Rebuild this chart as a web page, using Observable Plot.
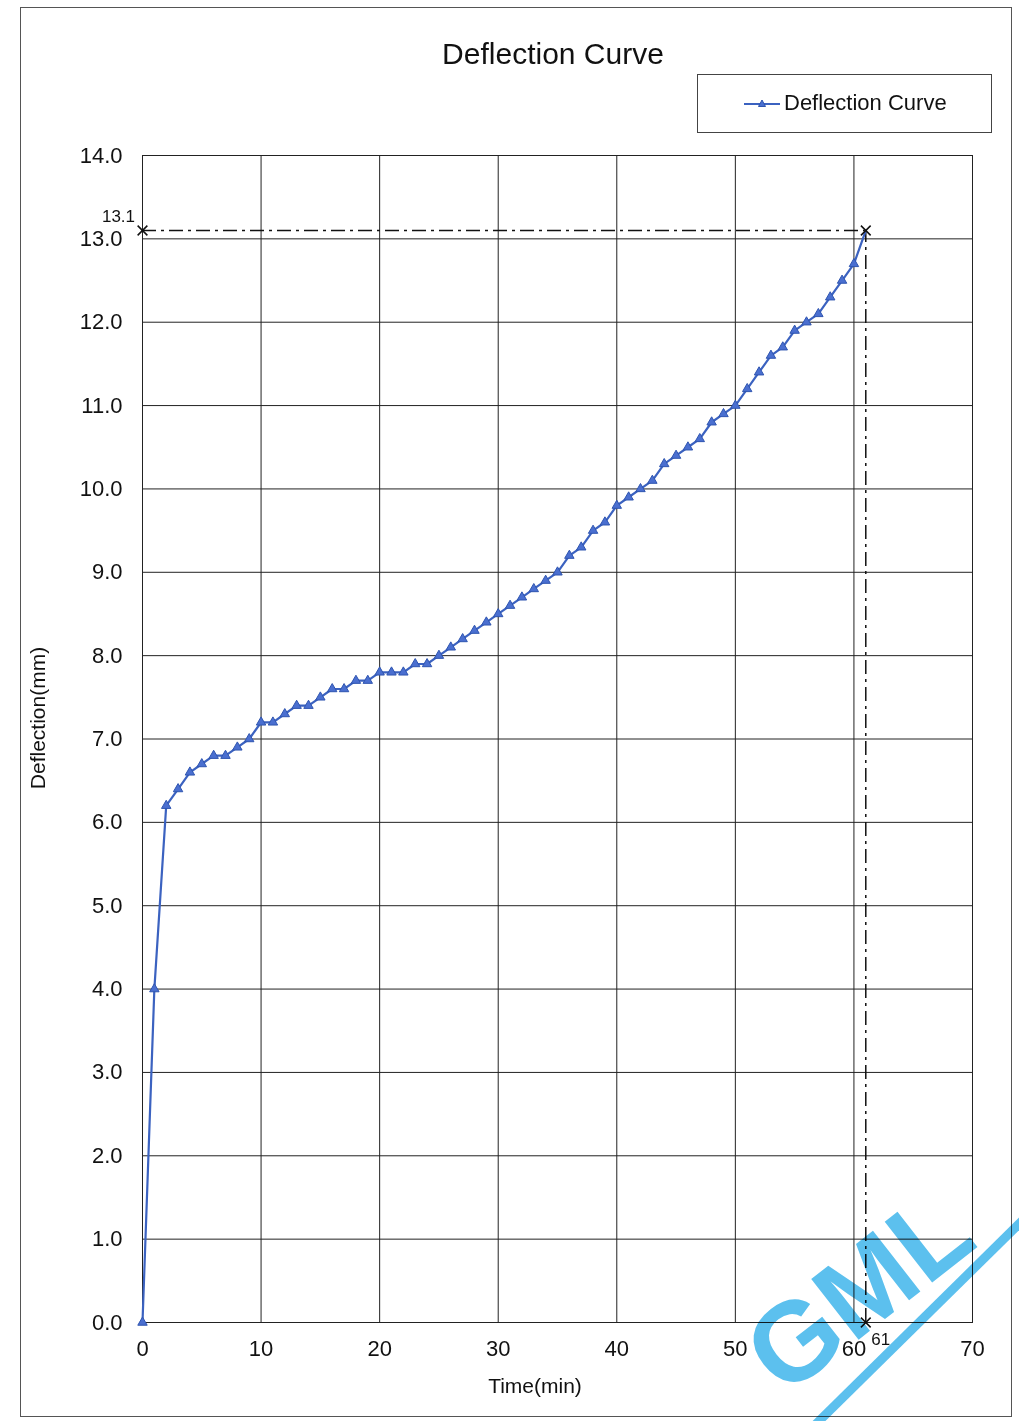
<!DOCTYPE html>
<html>
<head>
<meta charset="utf-8">
<script src="https://cdn.jsdelivr.net/npm/d3@7"></script>
<script src="https://cdn.jsdelivr.net/npm/@observablehq/plot@0.6"></script>
<style>
  html, body { margin: 0; padding: 0; background: #fff; }
  #page { position: relative; width: 1019px; height: 1421px; overflow: hidden; font-family: "Liberation Sans", Arial, sans-serif; color: #111; }
  #frame { position: absolute; left: 20px; top: 7px; width: 992px; height: 1410px; border: 1px solid #555; box-sizing: border-box; }
  #chart { position: absolute; left: 0; top: 0; }
  .lbl { position: absolute; white-space: nowrap; }
  #title { left: 553px; top: 54px; transform: translate(-50%, -50%); font-size: 30px; }
  #xlabel { left: 535px; top: 1386px; transform: translate(-50%, -50%); font-size: 21px; }
  #ylabel { left: 38px; top: 718px; transform: translate(-50%, -50%) rotate(-90deg); font-size: 21px; }
  #legend { position: absolute; left: 697px; top: 74px; width: 295px; height: 59px; border: 1px solid #444; box-sizing: border-box; }
  #legend svg { position: absolute; left: 46px; top: 22px; }
  #legend span { position: absolute; left: 86px; top: 15px; font-size: 22px; }
  #wm { position: absolute; left: 0; top: 0; mix-blend-mode: multiply; pointer-events: none; }
</style>
</head>
<body>
<div id="page">
  <div id="frame"></div>
  <div id="chart"></div>
  <div class="lbl" id="title">Deflection Curve</div>
  <div class="lbl" id="xlabel">Time(min)</div>
  <div class="lbl" id="ylabel">Deflection(mm)</div>
  <div id="legend">
    <svg width="38" height="14"><line x1="0" y1="7" x2="36" y2="7" stroke="#3b62c0" stroke-width="2"/><path d="M18,3 L21.5,9.5 L14.5,9.5 Z" fill="#4a6fd0" stroke="#2f55b0" stroke-width="1"/></svg>
    <span>Deflection Curve</span>
  </div>
</div>
<script>
// Data
const timeMin = [0,1,2,3,4,5,6,7,8,9,10,11,12,13,14,15,16,17,18,19,20,21,22,23,24,25,26,27,28,29,30,31,32,33,34,35,36,37,38,39,40,41,42,43,44,45,46,47,48,49,50,51,52,53,54,55,56,57,58,59,60,61];
const deflectionMm = [0,4.0,6.2,6.4,6.6,6.7,6.8,6.8,6.9,7.0,7.2,7.2,7.3,7.4,7.4,7.5,7.6,7.6,7.7,7.7,7.8,7.8,7.8,7.9,7.9,8.0,8.1,8.2,8.3,8.4,8.5,8.6,8.7,8.8,8.9,9.0,9.2,9.3,9.5,9.6,9.8,9.9,10.0,10.1,10.3,10.4,10.5,10.6,10.8,10.9,11.0,11.2,11.4,11.6,11.7,11.9,12.0,12.1,12.3,12.5,12.7,13.1];
const xTicks = [0,10,20,30,40,50,60,70];
const yTicks = [0,1,2,3,4,5,6,7,8,9,10,11,12,13,14];
const finalTime = 61;
const finalDeflection = 13.1;

const series = timeMin.map((t, i) => ({t, d: deflectionMm[i]}));
const markedPoints = [
  {t: 0, d: finalDeflection},
  {t: finalTime, d: finalDeflection},
  {t: finalTime, d: 0}
];

const blue = "#3b62c0";
const ink = "#111";

const plot = Plot.plot({
  width: 1019,
  height: 1421,
  marginLeft: 142,
  marginRight: 47,
  marginTop: 155,
  marginBottom: 99,
  style: {background: "transparent", fontFamily: "'Liberation Sans', Arial, sans-serif", color: ink, overflow: "visible"},
  x: {domain: [0, 70]},
  y: {domain: [0, 14]},
  marks: [
    Plot.gridY(yTicks, {stroke: "#222", strokeOpacity: 1, strokeWidth: 1}),
    Plot.gridX(xTicks, {stroke: "#222", strokeOpacity: 1, strokeWidth: 1}),
    Plot.frame({stroke: "#222", strokeWidth: 1}),
    Plot.axisY(yTicks, {tickSize: 0, tickPadding: 20, tickFormat: d => d.toFixed(1), fontSize: 22, label: null}),
    Plot.axisX(xTicks, {tickSize: 0, tickPadding: 18, tickFormat: d => String(d), fontSize: 22, label: null}),
    Plot.ruleY([finalDeflection], {x1: 0, x2: finalTime, stroke: "#111", strokeWidth: 1.5, strokeDasharray: "14,5,3,5"}),
    Plot.ruleX([finalTime], {y1: 0, y2: finalDeflection, stroke: "#111", strokeWidth: 1.5, strokeDasharray: "14,5,3,5"}),
    Plot.line(series, {x: "t", y: "d", stroke: blue, strokeWidth: 2.2}),
    Plot.dot(series.filter(p => p.t < finalTime), {x: "t", y: "d", symbol: "triangle", r: 3.5, fill: "#4a6fd0", stroke: "#2f55b0", strokeWidth: 1}),
    Plot.dot(markedPoints, {x: "t", y: "d", symbol: "times", r: 4.5, stroke: "#111", strokeWidth: 1.5}),
    Plot.text([{t: 0, d: finalDeflection}], {x: "t", y: "d", text: d => d.d.toFixed(1), dx: -24, dy: -14, fontSize: 17, fill: ink}),
    Plot.text([{t: finalTime, d: 0}], {x: "t", y: "d", text: d => String(d.t), dx: 15, dy: 17, fontSize: 17, fill: ink})
  ]
});
document.getElementById("chart").appendChild(plot);

// scanned-document stamp
const wm = d3.select("#page").append("svg").attr("id", "wm").attr("width", 1019).attr("height", 1421);
wm.append("line").attr("x1", 815).attr("y1", 1425).attr("x2", 1025).attr("y2", 1218)
  .attr("stroke", "#5cc0ee").attr("stroke-width", 9);
wm.append("text").attr("x", 0).attr("y", 0)
  .attr("transform", "translate(784,1398) rotate(-38)")
  .attr("font-family", "'Liberation Sans', Arial, sans-serif")
  .attr("font-weight", "bold").attr("font-size", 112)
  .attr("fill", "#5cc0ee").text("GML");
</script>
</body>
</html>
